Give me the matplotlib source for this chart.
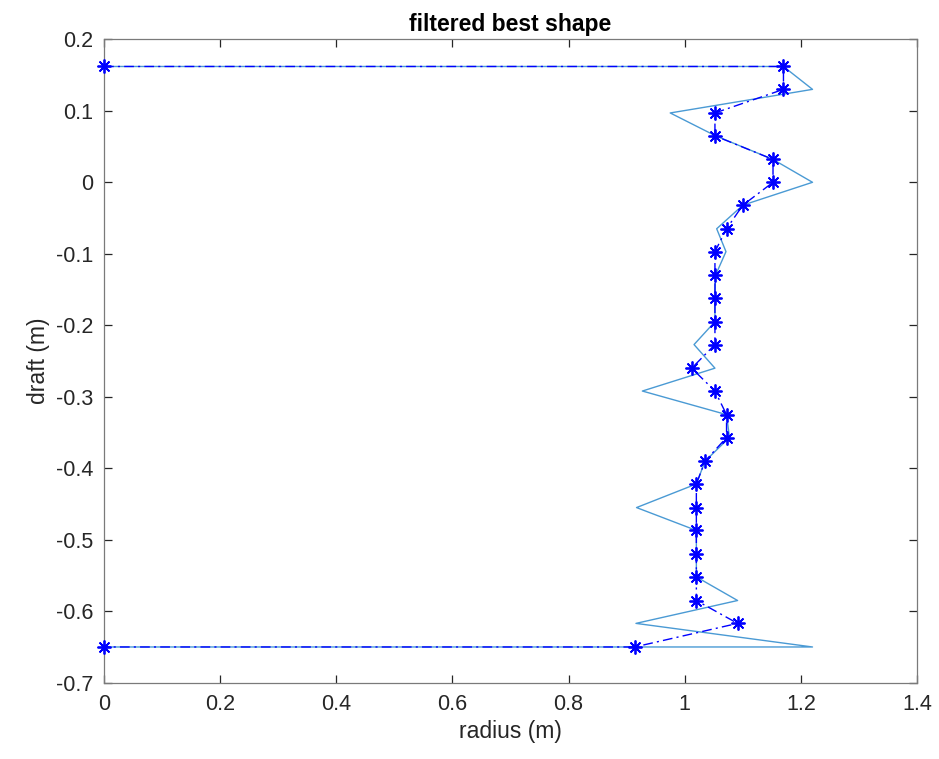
import matplotlib
matplotlib.use("Agg")
import matplotlib.pyplot as plt

# Draft levels (m), top of the hull to the keel
draft = [0.162, 0.130, 0.097, 0.065, 0.032, 0.000, -0.032, -0.065, -0.097,
         -0.130, -0.162, -0.195, -0.227, -0.260, -0.292, -0.325, -0.357,
         -0.390, -0.422, -0.455, -0.487, -0.520, -0.552, -0.585, -0.617,
         -0.650]

# Raw optimiser radii at each draft level (m)
radius_raw = [1.170, 1.220, 0.975, 1.053, 1.152, 1.220, 1.100, 1.055, 1.071,
              1.053, 1.052, 1.052, 1.016, 1.052, 0.927, 1.072, 1.077,
              1.035, 1.020, 0.917, 1.020, 1.020, 1.020, 1.091, 0.916,
              1.220]

# Filtered radii at each draft level (m)
radius_filt = [1.170, 1.170, 1.052, 1.052, 1.152, 1.152, 1.100, 1.072, 1.052,
               1.052, 1.052, 1.052, 1.052, 1.012, 1.052, 1.072, 1.072,
               1.035, 1.020, 1.020, 1.020, 1.020, 1.020, 1.020, 1.091,
               0.914]

# Closed profile: start and end on the axis of symmetry
x_raw = [0.0] + radius_raw + [0.0]
y_raw = [draft[0]] + draft + [draft[-1]]
x_filt = [0.0] + radius_filt + [0.0]
y_filt = [draft[0]] + draft + [draft[-1]]

plt.rcParams['font.family'] = ['Liberation Sans', 'DejaVu Sans']

fig = plt.figure(figsize=(9.39, 7.59), dpi=100)
ax = fig.add_axes([0.1108, 0.1005, 0.8658, 0.8477])

ax.plot(x_raw, y_raw, '-', color='#4a9ad4', lw=1.0)
# eight-spoke asterisk markers
ax.plot(x_filt, y_filt, linestyle=(0, (7, 3, 1.5, 3)), color='#0000ff', lw=1.0,
        marker=(8, 2, 0), markersize=10, markeredgewidth=1.3,
        clip_on=False, zorder=3)

ax.set_xlim(0, 1.4)
ax.set_ylim(-0.7, 0.2)
ax.set_xticks([0, 0.2, 0.4, 0.6, 0.8, 1.0, 1.2, 1.4])
ax.set_xticklabels(['0', '0.2', '0.4', '0.6', '0.8', '1', '1.2', '1.4'])
ax.set_yticks([-0.7, -0.6, -0.5, -0.4, -0.3, -0.2, -0.1, 0, 0.1, 0.2])
ax.set_yticklabels(['-0.7', '-0.6', '-0.5', '-0.4', '-0.3', '-0.2', '-0.1',
                    '0', '0.1', '0.2'])

for s in ax.spines.values():
    s.set_color('#7a7a7a')
    s.set_linewidth(0.9)
ax.tick_params(direction='in', top=True, right=True, length=6,
               width=0.9, color='#262626', labelsize=15.5,
               labelcolor='#262626', pad=8)

ax.set_xlabel('radius (m)', fontsize=16.5, color='#262626', labelpad=4)
ax.set_ylabel('draft (m)', fontsize=16.5, color='#262626', labelpad=4)
ax.set_title('filtered best shape', fontsize=16.5, fontweight='bold',
             color='black', pad=6)

fig.savefig('out.png', dpi=100, facecolor='white')
